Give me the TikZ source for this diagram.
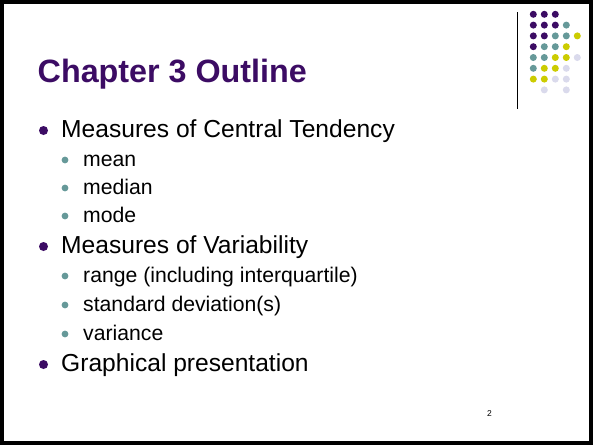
\documentclass[tikz,border=0pt]{standalone}
\usepackage{fontspec}
\setmainfont{Liberation Sans}
\definecolor{dpurple}{RGB}{60,12,100}
\definecolor{dteal}{RGB}{102,153,153}
\definecolor{dyellow}{RGB}{204,204,0}
\definecolor{dlav}{RGB}{218,218,236}
\begin{document}
\begin{tikzpicture}[x=1pt,y=-1pt,
  titletxt/.style={anchor=base west,inner sep=0pt,text=dpurple,font=\fontsize{32.3}{38}\selectfont\bfseries},
  lone/.style={anchor=base west,inner sep=0pt,font=\fontsize{24.6}{29}\selectfont},
  ltwo/.style={anchor=base west,inner sep=0pt,font=\fontsize{21.2}{25}\selectfont},
  bone/.style={circle,fill=dpurple,inner sep=0pt,minimum size=9pt},
  btwo/.style={circle,fill=dteal,inner sep=0pt,minimum size=6.8pt},
  gdot/.style={circle,inner sep=0pt,minimum size=7pt}]
\useasboundingbox (0,0) rectangle (593,445);
\fill[white] (0,0) rectangle (593,445);
\draw[black,line width=4.2pt] (2.1,2.1) rectangle (590.9,442.9);
% decoration
\coordinate (vtop) at (517,12);
\coordinate (vbot) at (517,109);
\draw[black,line width=1pt] (vtop) -- (vbot);
\foreach \r/\c/\col in {0/0/dpurple,0/1/dpurple,0/2/dpurple,
  1/0/dpurple,1/1/dpurple,1/2/dpurple,1/3/dteal,
  2/0/dpurple,2/1/dpurple,2/2/dteal,2/3/dteal,2/4/dyellow,
  3/0/dpurple,3/1/dteal,3/2/dteal,3/3/dyellow,
  4/0/dteal,4/1/dteal,4/2/dyellow,4/3/dyellow,4/4/dlav,
  5/0/dteal,5/1/dyellow,5/2/dyellow,5/3/dlav,
  6/0/dyellow,6/1/dyellow,6/2/dlav,6/3/dlav,
  7/1/dlav,7/3/dlav}
  \node[gdot,fill=\col] (g\r\c) at ({533.3+11*\c},{14.3+10.8*\r}) {};
% title
\node[titletxt] (title) at (37.5,82) {Chapter 3 Outline};
% bullets and items
\node[bone] (b1) at (43.5,130.5) {};
\node[lone] (t1) at (61,137) {Measures of Central Tendency};
\node[btwo] (b11) at (65,160) {};
\node[ltwo] (t11) at (83,166) {mean};
\node[btwo] (b12) at (65,188) {};
\node[ltwo] (t12) at (83,194) {median};
\node[btwo] (b13) at (65,216) {};
\node[ltwo] (t13) at (83,222) {mode};
\node[bone] (b2) at (43.5,246.5) {};
\node[lone] (t2) at (61,253) {Measures of Variability};
\node[btwo] (b21) at (65,276) {};
\node[ltwo] (t21) at (83,282) {range (including interquartile)};
\node[btwo] (b22) at (65,305) {};
\node[ltwo] (t22) at (83,311) {standard deviation(s)};
\node[btwo] (b23) at (65,334) {};
\node[ltwo] (t23) at (83,340) {variance};
\node[bone] (b3) at (43.5,364.5) {};
\node[lone] (t3) at (61,371) {Graphical presentation};
% page number
\node[anchor=base east,inner sep=0pt,font=\fontsize{8.5}{10}\selectfont] (pg) at (492,416) {2};
\end{tikzpicture}
\end{document}
